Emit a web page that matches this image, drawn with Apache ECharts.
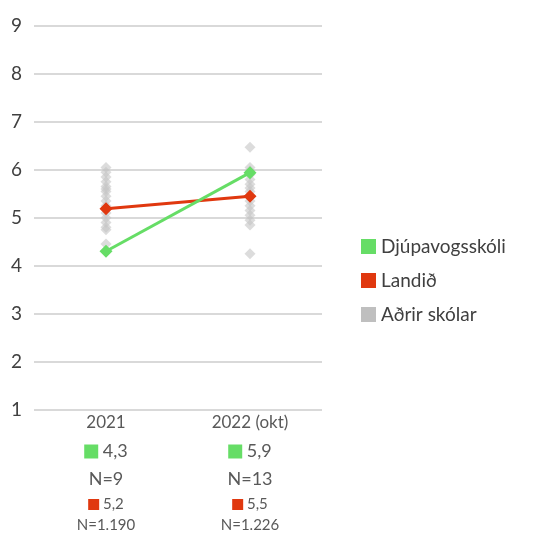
<!DOCTYPE html>
<html>
<head>
<meta charset="utf-8">
<script src="https://cdn.jsdelivr.net/npm/echarts@6/dist/echarts.min.js"></script>
<style>
  html, body { margin: 0; padding: 0; background: #fff; }
</style>
</head>
<body>
<div id="chart" style="width:535px;height:533px;"></div>
<script>
  // gögn
  var years = ['2021', '2022 (okt)'];
  var djupavogsskoli = [4.3, 5.94];
  var djupLabels = ['4,3', '5,9'];
  var djupN = ['9', '13'];
  var landid = [5.19, 5.45];
  var landLabels = ['5,2', '5,5'];
  var landN = ['1.190', '1.226'];
  var adrir2021 = [6.05, 5.95, 5.85, 5.75, 5.65, 5.6, 5.55, 5.45, 5.35, 5.25, 5.1, 5.0, 4.9, 4.8, 4.75, 4.45];
  var adrir2022 = [6.47, 6.05, 5.98, 5.9, 5.8, 5.7, 5.62, 5.55, 5.45, 5.35, 5.25, 5.15, 5.05, 4.95, 4.85, 4.25];
  var yTicks = [1, 2, 3, 4, 5, 6, 7, 8, 9];

  var green = '#66dd66';
  var red = '#e0380f';
  var grey = '#c4c4c4';
  var font = 'Lato';

  var adrirData = [];
  adrir2021.forEach(function (v) { adrirData.push([0, v]); });
  adrir2022.forEach(function (v) { adrirData.push([1, v]); });

  var myChart = echarts.init(document.getElementById('chart'));
  myChart.setOption({
    animation: false,
    textStyle: { fontFamily: font },
    grid: { left: 34, right: 213, top: 26, bottom: 123 },
    legend: {
      orient: 'vertical',
      left: 356,
      top: 232,
      itemWidth: 15,
      itemHeight: 15,
      itemGap: 15,
      icon: 'rect',
      textStyle: { fontSize: 19, color: '#404040', fontFamily: font },
      data: [
        { name: 'Djúpavogsskóli', itemStyle: { color: green } },
        { name: 'Landið', itemStyle: { color: red } },
        { name: 'Aðrir skólar', itemStyle: { color: '#bfbfbf', opacity: 1 } }
      ]
    },
    xAxis: {
      type: 'category',
      data: years,
      axisLine: { show: false },
      axisTick: { show: false },
      axisLabel: {
        margin: 0,
        interval: 0,
        formatter: function (val, idx) {
          return '{a|' + val + '}\n' +
            '{gs|}{v| ' + djupLabels[idx] + '}\n' +
            '{n|N=' + djupN[idx] + '}\n' +
            '{rs|}{s| ' + landLabels[idx] + '}\n' +
            '{m|N=' + landN[idx] + '}';
        },
        rich: {
          a: { fontSize: 17, lineHeight: 26, color: '#595959', fontFamily: font },
          gs: { width: 14, height: 14, backgroundColor: green, lineHeight: 32 },
          v: { fontSize: 18, lineHeight: 32, color: '#595959', fontFamily: font },
          n: { fontSize: 18, lineHeight: 24, color: '#595959', fontFamily: font },
          rs: { width: 11, height: 11, backgroundColor: red, lineHeight: 26 },
          s: { fontSize: 15, lineHeight: 26, color: '#595959', fontFamily: font },
          m: { fontSize: 15, lineHeight: 16, color: '#595959', fontFamily: font }
        }
      }
    },
    yAxis: {
      type: 'value',
      min: 1,
      max: 9,
      interval: 1,
      axisLine: { show: false },
      axisTick: { show: false },
      axisLabel: {
        fontSize: 19,
        color: '#404040',
        margin: 12,
        formatter: function (v) { return yTicks.indexOf(v) >= 0 ? String(v) : ''; }
      },
      splitLine: { lineStyle: { color: '#d9d9d9', width: 2 } }
    },
    series: [
      {
        name: 'Aðrir skólar',
        type: 'scatter',
        symbol: 'diamond',
        symbolSize: 11,
        itemStyle: { color: grey, opacity: 0.6 },
        data: adrirData,
        z: 1
      },
      {
        name: 'Landið',
        type: 'line',
        symbol: 'diamond',
        symbolSize: 13,
        lineStyle: { color: red, width: 3 },
        itemStyle: { color: red },
        data: landid,
        z: 3
      },
      {
        name: 'Djúpavogsskóli',
        type: 'line',
        symbol: 'diamond',
        symbolSize: 13,
        lineStyle: { color: green, width: 3 },
        itemStyle: { color: green },
        data: djupavogsskoli,
        z: 4
      }
    ]
  });
</script>
</body>
</html>
